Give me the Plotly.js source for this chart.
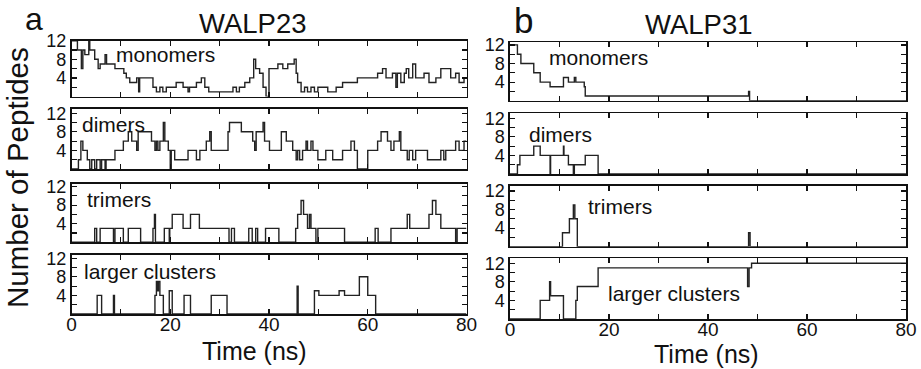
<!DOCTYPE html>
<html>
<head>
<meta charset="utf-8">
<script src="https://cdn.plot.ly/plotly-3.0.1.min.js"></script>
<style>html,body{margin:0;padding:0;background:#fff;}#chart{width:921px;height:369px;}</style>
</head>
<body>
<div id="chart"></div>
<script>
// ---------- DATA (step series: change times in ns, values = number of peptides) ----------
const panelLabels = ["monomers", "dimers", "trimers", "larger clusters"];
const systems = ["WALP23", "WALP31"];
const xTickVals = [0, 10, 20, 30, 40, 50, 60, 70, 80];
const xTickText = ["0", "", "20", "", "40", "", "60", "", "80"];
const yTickVals = [2, 4, 6, 8, 10, 12];
const yTickText = ["", "4", "", "8", "", "12"];

// WALP23 monomers
const w23MonoT = [0,1.2,2.0,2.3,2.7,3.5,3.7,4.7,5.4,5.8,6.8,7.1,8.8,10.6,11.1,11.8,13.2,13.6,13.8,16.5,17.2,17.9,18.5,19.2,21.2,22.6,23.6,23.9,25.3,26.3,27.0,27.8,32.7,33.4,34.0,35.1,36.1,36.9,37.3,38.1,38.8,39.4,40.0,41.8,42.8,43.8,45.1,45.5,45.8,46.5,47.2,47.8,48.5,49.2,49.9,50.9,51.9,53.6,54.9,57.9,62.0,63.0,63.7,65.0,65.7,66.0,66.7,67.4,67.8,68.3,69.1,69.7,71.4,72.4,73.8,74.8,76.8,77.8,78.5,79.5,80];
const w23MonoV = [12,10,6,10,9,12,10,8,6,7,9,7,6,5,4,3,4,1,4,2,1,2,1,2,3,2,1,2,3,4,2,1,2,1,2,3,4,8,6,5,2,0,6,7,6,7,8,5,3,1,2,1,2,1,2,2,1,2,3,4,5,6,4,5,2,5,3,5,6,4,7,4,5,3,4,6,4,5,3,4,4];
// WALP23 dimers
const w23DimT = [0,1.4,1.9,2.3,3.2,3.7,4.1,4.7,5.1,5.8,6.1,6.8,7.0,8.8,10.5,11.5,12.2,13.2,13.5,16.2,16.9,17.2,17.5,17.9,18.6,18.9,19.6,20.0,20.2,20.9,23.6,25.3,26.0,27.3,28.0,28.3,31.7,32.0,34.4,36.7,37.1,37.4,38.8,39.1,40.1,42.5,43.5,44.8,45.5,45.8,46.2,46.8,47.5,47.8,48.5,48.9,49.9,51.5,52.9,54.9,56.6,57.3,57.9,60.0,62.0,62.7,64.0,64.7,65.3,66.4,66.7,68.0,68.4,69.1,69.7,72.1,74.8,75.4,75.8,77.8,78.5,79.5,80];
const w23DimV = [0,2,6,4,2,0,2,0,2,0,2,0,2,4,6,8,6,4,8,6,4,6,4,6,10,6,4,0,4,2,4,2,4,6,8,4,8,10,8,6,4,8,10,6,4,8,6,4,2,4,2,4,6,4,6,4,2,4,2,4,6,4,0,4,6,8,6,4,6,8,4,2,4,2,4,2,4,2,4,6,4,6,6];
// WALP23 trimers
const w23TriT = [0,4.7,5.1,5.8,8.5,8.8,10.5,11.5,14.0,16.5,16.8,17.0,18.8,19.8,19.9,20.4,22.6,24.1,25.9,31.9,32.4,33.0,35.9,36.6,37.3,37.7,39.3,42.0,45.4,45.8,46.5,47.0,47.8,48.2,48.5,49.5,49.9,55.3,61.5,62.1,64.7,68.0,68.5,72.4,73.1,73.8,74.8,77.8,78.1,80];
const w23TriV = [0,3,0,3,0,3,0,3,0,3,6,0,3,0,3,6,3,6,3,0,3,0,3,0,3,0,3,0,3,6,9,6,3,6,3,0,3,0,3,0,3,6,3,6,9,6,3,0,3,3];
// WALP23 larger clusters
const w23LrgT = [0,5.2,6.1,8.5,8.7,16.9,17.2,17.4,17.6,17.9,18.6,19.8,20.4,22.8,24.1,28.3,31.5,45.7,45.9,49.2,50.1,54.2,55.3,58.3,60.0,61.6,80];
const w23LrgV = [0,4,0,4,0,4,7,5,7,4,0,5,0,4,0,4,0,6,0,5,4,5,4,8,4,0,0];

// WALP31 monomers
const w31MonoT = [0,1.5,2.2,4.8,6.1,8.1,10.8,11.8,13.0,13.3,15.0,15.2,48.2,48.4,80];
const w31MonoV = [12,10,8,6,4,3,5,4,5,4,3,1,2,0,0];
// WALP31 dimers
const w31DimT = [0,1.5,2.0,4.8,6.1,8.1,8.2,10.8,10.9,11.8,12.8,13.0,15.2,17.8,80];
const w31DimV = [0,2,4,6,4,0,4,6,4,2,0,2,4,0,0];
// WALP31 trimers
const w31TriT = [0,10.6,12.0,12.8,13.1,13.6,48.2,48.5,80];
const w31TriV = [0,3,6,9,6,0,3,0,0];
// WALP31 larger clusters
const w31LrgT = [0,6.1,8.0,8.2,10.8,13.3,13.6,17.8,48.0,48.3,48.8,80];
const w31LrgV = [0,4,8,5,0,4,7,11,7,11,12,12];

// ---------- LAYOUT CONSTANTS ----------
const W = 921, H = 369;
const pxPerUnit = 4.65;
const colX = [[71.5, 466.5], [510, 906]];
const rowY = [
  [[40.7, 96.5], [109, 169], [184, 242.3], [255, 314]],
  [[42.3, 100.7], [113.3, 174], [185.7, 246.7], [258.3, 319]]
];
const labelPos = [
  [[114, 54], [80, 124.5], [85, 199], [82, 271]],
  [[547, 58], [527, 134], [586, 206], [606, 293]]
];

const series = [
  [[w23MonoT, w23MonoV], [w23DimT, w23DimV], [w23TriT, w23TriV], [w23LrgT, w23LrgV]],
  [[w31MonoT, w31MonoV], [w31DimT, w31DimV], [w31TriT, w31TriV], [w31LrgT, w31LrgV]]
];

const FONT = "Arial, 'Liberation Sans', Helvetica, sans-serif";
const traces = [];
const layout = {
  width: W, height: H,
  margin: {l: 0, r: 0, t: 0, b: 0},
  paper_bgcolor: "#fff", plot_bgcolor: "#fff",
  showlegend: false,
  font: {family: FONT, color: "#111"},
  annotations: []
};

let k = 0;
for (let c = 0; c < 2; c++) {
  for (let r = 0; r < 4; r++) {
    k++;
    const xa = k === 1 ? "xaxis" : "xaxis" + k;
    const ya = k === 1 ? "yaxis" : "yaxis" + k;
    const xr = k === 1 ? "x" : "x" + k;
    const yr = k === 1 ? "y" : "y" + k;
    const [t, v] = series[c][r];
    traces.push({
      x: t, y: v, xaxis: xr, yaxis: yr, type: "scatter", mode: "lines",
      line: {shape: "hv", color: "#222", width: 1.4}, hoverinfo: "skip"
    });
    const yd = rowY[c][r];
    const hpx = yd[1] - yd[0];
    const bottom = r === 3;
    layout[xa] = {
      domain: [colX[c][0] / W, colX[c][1] / W],
      anchor: yr, range: [0, 80],
      tickmode: "array", tickvals: xTickVals, ticktext: xTickText,
      showticklabels: bottom,
      ticks: "inside", ticklen: 5, tickwidth: 1.2, tickcolor: "#111",
      mirror: "ticks", showline: true, linewidth: 1.6, linecolor: "#111",
      showgrid: false, zeroline: false,
      ticklabelstandoff: -7,
      tickfont: {size: 19, family: FONT, color: "#111"}
    };
    layout[ya] = {
      domain: [1 - yd[1] / H, 1 - yd[0] / H],
      anchor: xr, range: [0, hpx / pxPerUnit],
      tickmode: "array", tickvals: yTickVals, ticktext: yTickText,
      ticks: "inside", ticklen: 5, tickwidth: 1.2, tickcolor: "#111",
      mirror: "ticks", showline: true, linewidth: 1.6, linecolor: "#111",
      showgrid: false, zeroline: false,
      tickfont: {size: 18, family: FONT, color: "#111"}
    };
    layout.annotations.push({
      text: panelLabels[r], xref: "paper", yref: "paper",
      x: labelPos[c][r][0] / W, y: 1 - labelPos[c][r][1] / H,
      xanchor: "left", yanchor: "middle", showarrow: false,
      font: {size: 21, family: FONT, color: "#111"}
    });
  }
}

// titles, panel letters, axis titles
const ann = layout.annotations;
ann.push({text: systems[0], xref: "paper", yref: "paper", x: 253 / W, y: 1 - 23 / H,
  xanchor: "center", yanchor: "middle", showarrow: false, font: {size: 27.5, family: FONT, color: "#111"}});
ann.push({text: systems[1], xref: "paper", yref: "paper", x: 699 / W, y: 1 - 24 / H,
  xanchor: "center", yanchor: "middle", showarrow: false, font: {size: 27.5, family: FONT, color: "#111"}});
ann.push({text: "a", xref: "paper", yref: "paper", x: 34 / W, y: 1 - 19 / H,
  xanchor: "center", yanchor: "middle", showarrow: false, font: {size: 32, family: FONT, color: "#111"}});
ann.push({text: "b", xref: "paper", yref: "paper", x: 523 / W, y: 1 - 21 / H,
  xanchor: "center", yanchor: "middle", showarrow: false, font: {size: 35, family: FONT, color: "#111"}});
ann.push({text: "Time (ns)", xref: "paper", yref: "paper", x: 254 / W, y: 1 - 351 / H,
  xanchor: "center", yanchor: "middle", showarrow: false, font: {size: 25, family: FONT, color: "#111"}});
ann.push({text: "Time (ns)", xref: "paper", yref: "paper", x: 706 / W, y: 1 - 354 / H,
  xanchor: "center", yanchor: "middle", showarrow: false, font: {size: 25, family: FONT, color: "#111"}});
ann.push({text: "Number of Peptides", xref: "paper", yref: "paper", x: 18 / W, y: 1 - 178 / H,
  xanchor: "center", yanchor: "middle", textangle: -90, showarrow: false, font: {size: 29.5, family: FONT, color: "#111"}});

Plotly.newPlot("chart", traces, layout, {staticPlot: true, displayModeBar: false});
</script>
</body>
</html>
